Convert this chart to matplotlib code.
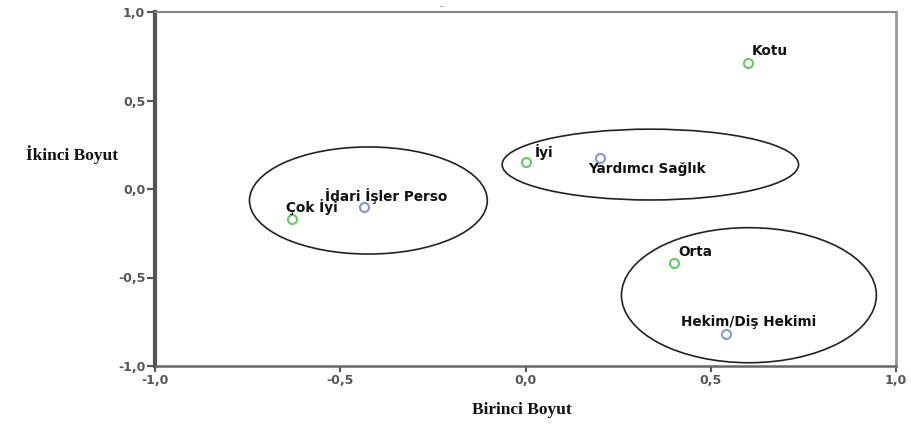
import matplotlib
matplotlib.use("Agg")
import matplotlib.pyplot as plt
from matplotlib.patches import Ellipse
from matplotlib.ticker import FuncFormatter

# Data: category points (Dimension 1, Dimension 2)
labels = ["Kotu", "İyi", "Yardımcı Sağlık", "İdari İşler Perso", "Çok İyi", "Orta", "Hekim/Diş Hekimi"]
dim1 = [0.60, 0.00, 0.20, -0.435, -0.63, 0.40, 0.54]
dim2 = [0.71, 0.15, 0.175, -0.10, -0.17, -0.42, -0.82]
groups = ["rating", "rating", "staff", "staff", "rating", "rating", "staff"]

# Grouping ellipses (center x, center y, width, height) in data units
ell_x = [-0.424, 0.337, 0.603]
ell_y = [-0.065, 0.138, -0.60]
ell_w = [0.642, 0.80, 0.688]
ell_h = [0.605, 0.40, 0.763]

ticks = [-1.0, -0.5, 0.0, 0.5, 1.0]

# label offsets in pixels (style)
offsets = [(22, 12), (19, 10), (47, -11), (22, 11), (20, 12), (22, 11), (23, 12)]
colors = {"rating": "#6cc46c", "staff": "#8796cf"}

fig = plt.figure(figsize=(9.11, 4.24), dpi=100)
ax = fig.add_axes([155/911, 1-366/424, (896-155)/911, (366-12)/424])

for x, y, g in zip(dim1, dim2, groups):
    ax.plot(x, y, marker="o", markersize=6.5, markerfacecolor="none",
            markeredgecolor=colors[g], markeredgewidth=1.5, linestyle="none")

for lab, x, y, (dx, dy) in zip(labels, dim1, dim2, offsets):
    ax.annotate(lab, (x, y), xytext=(dx, dy), textcoords="offset pixels",
                ha="center", va="center", fontsize=9.8, fontweight="bold",
                family="DejaVu Sans", color="#111111")

for cx, cy, w, h in zip(ell_x, ell_y, ell_w, ell_h):
    ax.add_patch(Ellipse((cx, cy), w, h, fill=False, edgecolor="#222222", linewidth=1.2))

ax.set_xlim(-1.0, 1.0)
ax.set_ylim(-1.0, 1.0)
ax.set_xticks(ticks)
ax.set_yticks(ticks)
fmt = FuncFormatter(lambda v, p: f"{v:.1f}".replace(".", ","))
ax.xaxis.set_major_formatter(fmt)
ax.yaxis.set_major_formatter(fmt)
ax.tick_params(axis="y", direction="out", length=6, width=1.5, color="#555555",
               labelsize=9, labelcolor="#555555", pad=1)
ax.tick_params(axis="x", direction="out", length=4, width=1.5, color="#555555",
               labelsize=9, labelcolor="#555555", pad=2)
for t in ax.get_xticklabels() + ax.get_yticklabels():
    t.set_fontweight("bold")

ax.spines["left"].set_linewidth(3)
ax.spines["left"].set_color("#555555")
ax.spines["bottom"].set_linewidth(1.8)
ax.spines["bottom"].set_color("#666666")
ax.spines["top"].set_linewidth(1.5)
ax.spines["top"].set_color("#888888")
ax.spines["right"].set_linewidth(2)
ax.spines["right"].set_color("#999999")

fig.text(72/911, 1-155/424, "İkinci Boyut", ha="center", va="center",
         fontsize=12.5, fontweight="bold", family="Liberation Serif", color="#111111")
fig.text(522/911, 1-410/424, "Birinci Boyut", ha="center", va="center",
         fontsize=12.5, fontweight="bold", family="Liberation Serif", color="#111111")
fig.text(441/911, 1-6/424, "-", ha="center", va="center", fontsize=7, color="#777777")

fig.savefig("out.png", dpi=100)
